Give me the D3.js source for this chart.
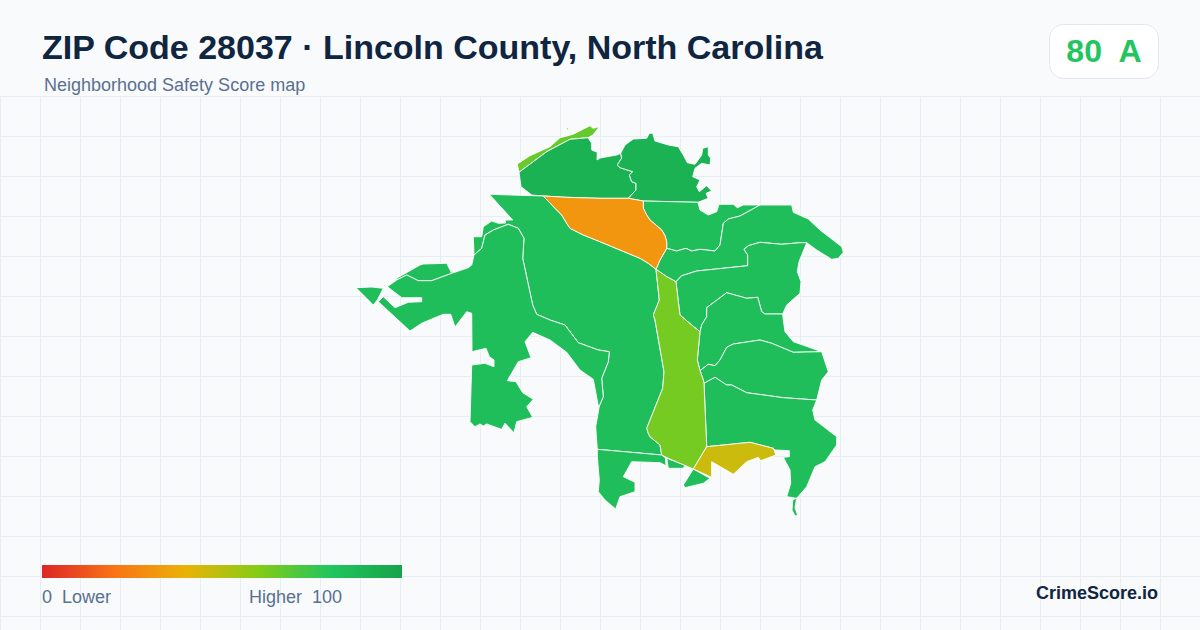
<!DOCTYPE html>
<html>
<head>
<meta charset="utf-8">
<script src="https://cdn.jsdelivr.net/npm/d3@7"></script>
<style>
  body { margin: 0; background: #f8fafc; }
  svg { display: block; font-family: "Liberation Sans", Arial, sans-serif; }
  text { white-space: pre; }
</style>
</head>
<body>
<div id="chart"></div>
<script>
const titleText = "ZIP Code 28037 · Lincoln County, North Carolina";
const subtitleText = "Neighborhood Safety Score map";
const overallScore = "80";
const overallGrade = "A";
const legendStops = [0, 20, 40, 60, 80, 100];
const legendColors = ["#dc2626", "#f97316", "#eab308", "#84cc16", "#22c55e", "#16a34a"];

// shared borders between tracts, in map units
const seamNorth = [[169,52.3],[196.7,31.7],[220,19.3],[238,17.7]];
const seamNwNe = [[270.7,33.3],[271.7,38],[267.3,45],[270,47.7],[282.7,51.7],[279.3,55],[281.7,61.7],[286,63.3],[286,70],[278.3,78.3]];
const seamA = [[193.3,76],[216.7,77.3],[250,78.3],[278.3,78.3]];
const seamC = [[278.3,78.3],[293.3,81]];
const seamD = [[293.3,81],[348,82.3]];
const orangeSouth = [[193.3,76],[206.7,90],[211.7,95],[216.7,103.3],[220,108.3],[233.3,115],[250,121.7],[270,130],[290,138.3],[298.3,143.3],[306,149.3]];
const orangeUpper = [[293.3,81],[293.3,88.3],[296.7,95],[300,100],[306.7,105.7],[311.7,110],[315,115.7],[316.7,121.7],[316.7,128.3]];
const orangeLower = [[316.7,128.3],[310,140],[306,149.3]];
const u2North = [[316.7,128.3],[326.7,131],[336,128.3],[341.7,131],[350,129.3],[365,131],[370,125],[373.3,103.3],[378.3,99],[390,96],[410,85]];
const u3North = [[326,161.7],[331.7,155.7],[346.7,151],[397.7,145.7],[397.7,135],[394,129.3],[398.3,125.7],[410,122.3],[431.7,124.3],[450,122.7],[456.7,122.7]];
const u4North = [[350,211.7],[351.7,205],[356.7,196.7],[356.7,187.7],[376.7,172.7],[396.7,178.3],[407.7,177.3],[411.7,191.7],[415,194],[432.7,194]];
const mNorth = [[350,250.7],[358.3,244.3],[365,245.7],[370,240],[376.7,227.3],[383.3,224],[410,220],[421.7,223.3],[443.3,232.3],[471.7,231.7]];
const mSouth = [[354,263.3],[365,257.3],[376.7,265],[381.7,265],[396.7,272.7],[433.3,277.7],[466.7,280]];
const limeTop = [[306,149.3],[316.7,156.7],[326,161.7]];
const limeNE = [[326,161.7],[328.3,181.7],[330,195],[341.7,205],[350,211.7]];
const limeE1 = [[350,211.7],[347.3,240],[350,250.7]];
const limeE2 = [[350,250.7],[353.3,260],[354,263.3]];
const limeE3 = [[354,263.3],[356.7,326.7]];
const limeW = [[306,149.3],[309.3,180],[303.3,195],[305,200],[314,251.7],[312.7,268.3],[296.7,308.3],[298.3,313.3],[300,316.7],[310,325],[311.7,335]];
const oliveTop = [[356.7,326.7],[400,322.3],[423.3,328.3]];
const lineA = [[46.7,160],[56.7,155],[68.3,160.7],[81.7,160.7],[101.7,153.3]];
const lineB = [[124,135],[131.7,128.3],[135,115],[143.3,110],[158.3,104.3],[168.3,108.3],[174,118.3],[172.7,138.3],[182.7,185],[186.7,194.3],[200,200],[215,205],[228.3,222.7],[248.3,230],[259.3,231.7]];
const sliver = [[259.3,231.7],[258.3,241.7],[251.7,258.3],[253.3,276.7],[249.3,286]];

const rev = a => a.slice().reverse();
const flat = (...parts) => parts.reduce((acc, p) => acc.concat(p), []);

const tractStrip = [
  [[167.3,44],[180,35.7],[200,26.7],[210,17.7],[223,14.3],[240,5.7],[243,8.3],[249.3,6.7],[243,15],[238,17.7],[220,19.3],[196.7,31.7],[169,52.3]],
  [[216,6],[219,9.5],[217,10]]
];
const tractNW = [flat(seamNorth, [[241.7,23.3],[241.7,30],[247.3,32.3],[247,40],[250,38],[266.7,35]], seamNwNe, rev(seamA), [[181.7,75],[171,66.7]])];
const tractNE = [flat([[270.7,33.3],[275,25],[283.3,19],[296.7,18.3],[299.3,13.3],[302.7,13.3],[305,21],[318.3,25],[328.3,26.7],[333.3,35],[337.3,42.7],[345,44.3],[351.7,35],[352.7,28.3],[358.3,26.7],[358.3,35],[360.7,38.3],[360,45],[351.7,43.3],[345,48.3],[342.7,56.7],[350,60],[346.7,66.7],[349.3,71.7],[356.7,65.7],[361.7,71],[356,73.3],[358.3,78.3]], rev(seamD), rev(seamC), rev(seamNwNe))];
const tractOrange = [flat(orangeSouth, rev(orangeLower), rev(orangeUpper), rev(seamC), rev(seamA))];
const tractU1 = [flat(seamD, [[350,90],[358.3,95],[366.7,91.7],[369,84.3],[383.3,84.3],[387.3,87.7],[393.3,85]], rev(u2North), rev(orangeUpper))];
const tractU2 = [flat(u2North, [[441.7,85],[443.3,92.3],[458.3,99],[470,110],[491.7,126.7],[493.3,132.3],[488.3,138.3],[481.7,139.3],[466.7,130]], rev(u3North), rev(limeTop), rev(orangeLower))];
const tractU3 = [flat(u3North, [[449,141.7],[447.3,151.7],[451,161.7],[450,173.3],[436.7,185]], rev(u4North), rev(limeNE))];
const tractU4 = [flat(u4North, [[433.3,200],[435,211.7],[443.3,221.7]], rev(mNorth), rev(limeE1))];
const tractM = [flat(mNorth, [[478.3,251.7],[471.7,260]], rev(mSouth), rev(limeE2))];
const tractSE = [
  flat(mSouth, [[462.7,290],[465,300],[486.7,316.7],[486.7,325],[475,341.7],[465,346.7],[456.7,366.7],[446.7,378.3],[436.7,376.7],[440.7,363.3],[440,350],[433.3,337.3],[439.3,336.7],[439.3,330.7],[425,330]], rev(oliveTop), rev(limeE3)),
  [[442.7,380],[446.7,378],[445,388],[447.7,395],[445,396],[442,390]]
];
const tractLime = [flat(limeTop, limeNE, limeE1, limeE2, limeE3, [[343.3,349],[318.3,338.3]], rev(limeW))];
const tractOlive = [flat([[343.3,349],[361.7,357.3],[361.7,341.7],[383.3,354.3],[396.7,341.7],[408.3,337.3],[410.7,340.7],[426,335]], rev(oliveTop))];
const tractTip = [[[343.3,349],[333.3,365],[335,367.7],[353.3,363.3],[360,358.3]]];
const tractBar = [[[316.7,338.3],[318.3,348.3],[333.3,348.3],[335,345.2]]];
const tractS = [[[247.3,329.3],[311.7,335],[315.5,338],[316,345.7],[310,342.7],[281.7,341.7],[273.3,356.7],[285,362.3],[285,371.7],[270,376.7],[265.7,389],[255,380],[248.3,371.7],[249.3,360],[247.3,336.7]]];
const tractB = [
  flat([[139.3,74.3]], orangeSouth, limeW, [[247.3,329.3],[245.7,306.7]], rev(sliver), rev(lineB), [[123.3,116.7],[131.7,116.7],[133.3,106.7],[141.7,101],[148.3,103.3],[155.7,103],[155,100],[162.7,100]]),
  flat(lineA, [[96.7,143.3],[73.3,144],[70,145],[46.7,158.3]]),
  [[6,167.7],[21.7,167],[33.3,168.3],[27.3,180],[23.3,185]]
];
const tractC = [flat([[28.3,181.7],[33.3,176.7],[45,187.7],[58.3,182.3],[71.7,181.7],[71.7,177.7],[51.7,177.7],[37.3,166.7]], lineA, [[118.3,147.7],[121.7,145]], lineB, sliver, [[248.3,286],[243.3,259.3],[230,250],[216.7,232.3],[200,220],[182.7,212.3],[175,221.7],[181,237.7],[168.3,241.7],[157.3,260.7],[166,261.7],[172.7,272.7],[183.3,279.3],[176.7,286.7],[182.7,297.3],[166.7,301.7],[164,312.7],[155,303.3],[151.7,309.3],[136.7,304],[133.3,306],[130,304],[125,306.7],[120,301.7],[121.7,245],[135,243.3],[144,246.7],[144,240],[139.3,236.7],[136,228.3],[122,231.7],[121.7,193.3],[116.7,191.7],[105,207],[100.7,194.3],[93.3,194.3],[81.7,199],[71.7,203.3],[60,211]])];

const tractShapes = [tractStrip, tractNW, tractNE, tractB, tractC, tractU1, tractU2, tractU3, tractU4, tractM, tractSE, tractS, tractTip, tractBar, tractOrange, tractLime, tractOlive];
const tractScores = [66, 91, 91, 84, 84, 84, 84, 84, 84, 84, 84, 84, 84, 84, 31, 63, 46];

const width = 1200;
const height = 630;

const svg = d3.select("#chart").append("svg").attr("width", width).attr("height", height);

svg.append("rect").attr("width", width).attr("height", height).attr("fill", "#f8fafc");

// background grid starts under the header
const grid = svg.append("g").attr("stroke", "#e6eef3").attr("stroke-width", 1);
grid.selectAll("line.v").data(d3.range(0, width, 40)).enter().append("line")
  .attr("x1", d => d + 0.5).attr("x2", d => d + 0.5).attr("y1", 96).attr("y2", height);
grid.selectAll("line.h").data(d3.range(96, height, 40)).enter().append("line")
  .attr("x1", 0).attr("x2", width).attr("y1", d => d + 0.5).attr("y2", d => d + 0.5);

const scoreColor = d3.scaleLinear().domain(legendStops).range(legendColors);

const projection = d3.geoIdentity().translate([350, 120]);
const path = d3.geoPath(projection);

const features = tractShapes.map((rings, i) => ({
  type: "Feature",
  properties: { score: tractScores[i] },
  geometry: { type: "MultiPolygon", coordinates: rings.map(r => [r.concat([r[0]])]) }
}));

svg.append("g").selectAll("path").data(features).enter().append("path")
  .attr("d", path)
  .attr("fill", d => scoreColor(d.properties.score))
  .attr("stroke", "#ffffff")
  .attr("stroke-width", 0.9)
  .attr("stroke-linejoin", "round");

// header
svg.append("text").text(titleText).attr("x", 42).attr("y", 59)
  .attr("font-size", 34).attr("font-weight", 700).attr("fill", "#0f2540");
svg.append("text").text(subtitleText).attr("x", 44).attr("y", 91)
  .attr("font-size", 18).attr("fill", "#5a7090");

svg.append("rect").attr("x", 1049.5).attr("y", 24.5).attr("width", 109).attr("height", 54).attr("rx", 14)
  .attr("fill", "#ffffff").attr("stroke", "#e2e8f0");
svg.append("text").text(overallScore + "  " + overallGrade).attr("x", 1104).attr("y", 62)
  .attr("text-anchor", "middle").attr("font-size", 32).attr("font-weight", 700).attr("fill", "#22c55e");

// legend
const legendX = d3.scaleLinear().domain([0, 100]).range([42, 402]);
const grad = svg.append("defs").append("linearGradient").attr("id", "legendGrad");
grad.selectAll("stop").data(legendStops).enter().append("stop")
  .attr("offset", d => d + "%")
  .attr("stop-color", (d, i) => legendColors[i]);

svg.append("rect").attr("x", legendX(0)).attr("y", 565).attr("width", legendX(100) - legendX(0)).attr("height", 13)
  .attr("fill", "url(#legendGrad)");
svg.append("text").text("0  Lower").attr("x", 42).attr("y", 603).attr("font-size", 18).attr("fill", "#5a7090");
svg.append("text").text("Higher  100").attr("x", 249).attr("y", 603).attr("font-size", 18).attr("fill", "#5a7090");

svg.append("text").text("CrimeScore.io").attr("x", 1158).attr("y", 599).attr("text-anchor", "end")
  .attr("font-size", 18).attr("font-weight", 700).attr("fill", "#0f2540");
</script>
</body>
</html>
